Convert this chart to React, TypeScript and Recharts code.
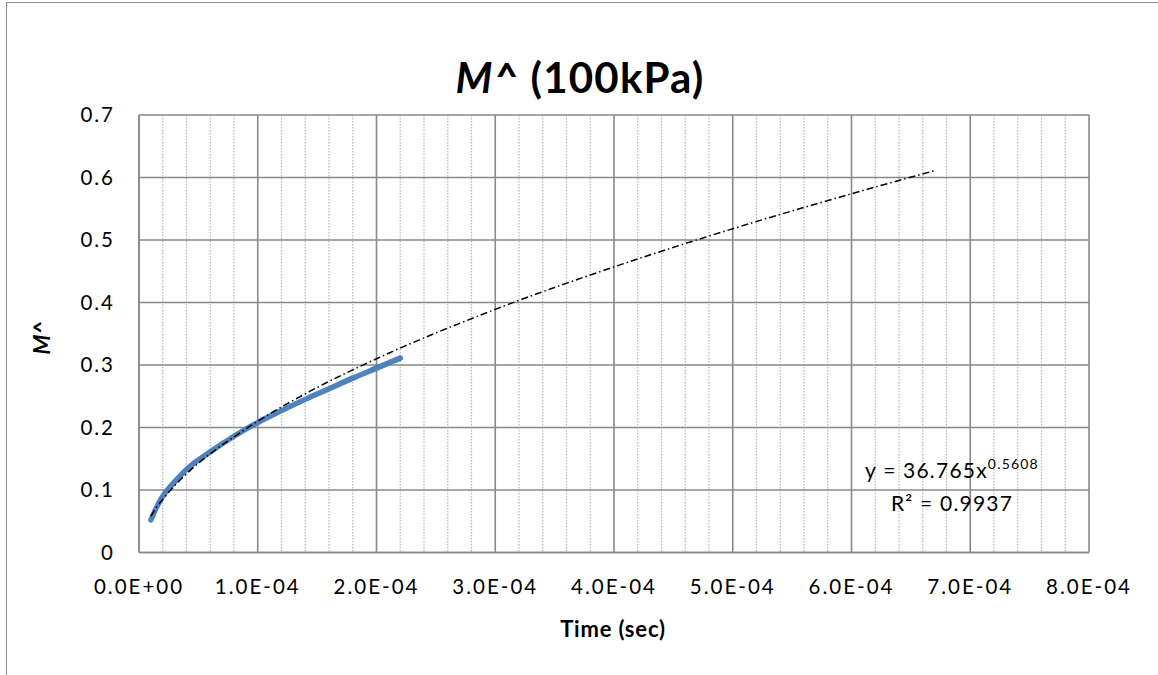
import React from 'react';
import { ComposedChart, Line, XAxis, YAxis, CartesianGrid } from 'recharts';

// Measured M^ response over time (100 kPa)
const measuredTime = [1.0e-5, 1.5e-5, 2.0e-5, 3.0e-5, 4.0e-5, 6.0e-5, 8.0e-5, 1.0e-4, 1.2e-4, 1.4e-4, 1.6e-4, 1.8e-4, 2.0e-4, 2.2e-4];
const measuredM = [0.052, 0.073, 0.09, 0.113, 0.133, 0.161, 0.186, 0.208, 0.227, 0.245, 0.262, 0.279, 0.295, 0.311];

// Power trendline y = 36.765x^0.5608
const trendTime = [1.0e-5, 1.5e-5, 2.0e-5, 3.0e-5, 4.0e-5, 6.0e-5, 8.0e-5, 1.0e-4, 1.5e-4, 2.0e-4, 3.0e-4, 4.0e-4, 5.0e-4, 6.0e-4, 6.7e-4];
const trendM = [0.058, 0.073, 0.085, 0.107, 0.126, 0.158, 0.185, 0.21, 0.264, 0.31, 0.389, 0.457, 0.518, 0.574, 0.611];

const xTicks = [0, 1e-4, 2e-4, 3e-4, 4e-4, 5e-4, 6e-4, 7e-4, 8e-4];
const xTickLabels = ['0.0E+00', '1.0E-04', '2.0E-04', '3.0E-04', '4.0E-04', '5.0E-04', '6.0E-04', '7.0E-04', '8.0E-04'];
const xMinorTicks = [
  2e-5, 4e-5, 6e-5, 8e-5,
  1.2e-4, 1.4e-4, 1.6e-4, 1.8e-4,
  2.2e-4, 2.4e-4, 2.6e-4, 2.8e-4,
  3.2e-4, 3.4e-4, 3.6e-4, 3.8e-4,
  4.2e-4, 4.4e-4, 4.6e-4, 4.8e-4,
  5.2e-4, 5.4e-4, 5.6e-4, 5.8e-4,
  6.2e-4, 6.4e-4, 6.6e-4, 6.8e-4,
  7.2e-4, 7.4e-4, 7.6e-4, 7.8e-4,
];
const yTicks = [0, 0.1, 0.2, 0.3, 0.4, 0.5, 0.6, 0.7];
const yTickLabels = ['0', '0.1', '0.2', '0.3', '0.4', '0.5', '0.6', '0.7'];

const measuredData = measuredTime.map((t, i) => ({ t, m: measuredM[i] }));
const trendData = trendTime.map((t, i) => ({ t, m: trendM[i] }));

const W = 1158;
const H = 675;
const FONT = 'Lato, "Open Sans", sans-serif';
const GRID = '#898989';

const tickStyle = { fill: '#000', fontSize: 20.5, fontFamily: FONT, style: { letterSpacing: '2px' } };

export default function App() {
  return (
    <div style={{ position: 'absolute', left: 0, top: 0, width: W, height: H, background: '#fff', overflow: 'hidden' }}>
      <div
        style={{
          position: 'absolute',
          left: 6,
          top: 2,
          width: W - 6,
          height: H - 2,
          borderLeft: `1.5px solid ${GRID}`,
          borderTop: `1.5px solid ${GRID}`,
          boxSizing: 'border-box',
        }}
      />
      <div style={{ position: 'absolute', left: 0, top: 0 }}>
        <ComposedChart width={W} height={H} margin={{ top: 115, right: 69, bottom: 0, left: 0 }}>
          <CartesianGrid horizontal={false} verticalValues={xMinorTicks} stroke="#b5b5b5" strokeWidth={1.2} strokeDasharray="1.5 1.5" />
          <CartesianGrid stroke={GRID} strokeWidth={1.6} />
          <XAxis
            type="number"
            dataKey="t"
            domain={[0, 8e-4]}
            ticks={xTicks}
            interval={0}
            tickFormatter={(v: number) => xTickLabels[xTicks.indexOf(v)] ?? String(v)}
            height={122.5}
            tickLine={false}
            tickSize={0}
            tickMargin={27}
            axisLine={{ stroke: GRID, strokeWidth: 1.6 }}
            tick={tickStyle}
          />
          <YAxis
            type="number"
            dataKey="m"
            domain={[0, 0.7]}
            ticks={yTicks}
            interval={0}
            tickFormatter={(v: number) => yTickLabels[yTicks.indexOf(v)] ?? String(v)}
            width={139}
            tickLine={false}
            tickSize={0}
            tickMargin={24}
            axisLine={{ stroke: GRID, strokeWidth: 1.6 }}
            tick={tickStyle}
          />
          <Line
            data={measuredData}
            dataKey="m"
            type="monotone"
            stroke="#4F81BD"
            strokeWidth={5.5}
            strokeLinecap="round"
            dot={false}
            activeDot={false}
            isAnimationActive={false}
          />
          <Line
            data={trendData}
            dataKey="m"
            type="monotone"
            stroke="#000"
            strokeWidth={1.5}
            strokeDasharray="7 3 1.5 3"
            dot={false}
            activeDot={false}
            isAnimationActive={false}
          />
        </ComposedChart>
      </div>
      <svg width={W} height={H} style={{ position: 'absolute', left: 0, top: 0, pointerEvents: 'none' }}>
        <text x={580} y={93} textAnchor="middle" fontFamily={FONT} fontWeight={700} fontSize={42} letterSpacing={1.2} fill="#000">
          <tspan fontStyle="italic">M^</tspan> (100kPa)
        </text>
        <text x={613} y={637} textAnchor="middle" fontFamily={FONT} fontWeight={700} fontSize={22} letterSpacing={0.8} fill="#000">
          Time (sec)
        </text>
        <text
          x={0}
          y={0}
          transform="translate(50 338) rotate(-90)"
          textAnchor="middle"
          fontFamily={FONT}
          fontWeight={700}
          fontStyle="italic"
          fontSize={23}
          fill="#000"
        >
          M^
        </text>
        <text x={952} y={478} textAnchor="middle" fontFamily={FONT} fontSize={21} letterSpacing={1.2} fill="#000">
          y = 36.765x<tspan fontSize={14} dy={-9}>0.5608</tspan>
        </text>
        <text x={952} y={511} textAnchor="middle" fontFamily={FONT} fontSize={21} letterSpacing={1.2} fill="#000">
          R² = 0.9937
        </text>
      </svg>
    </div>
  );
}
